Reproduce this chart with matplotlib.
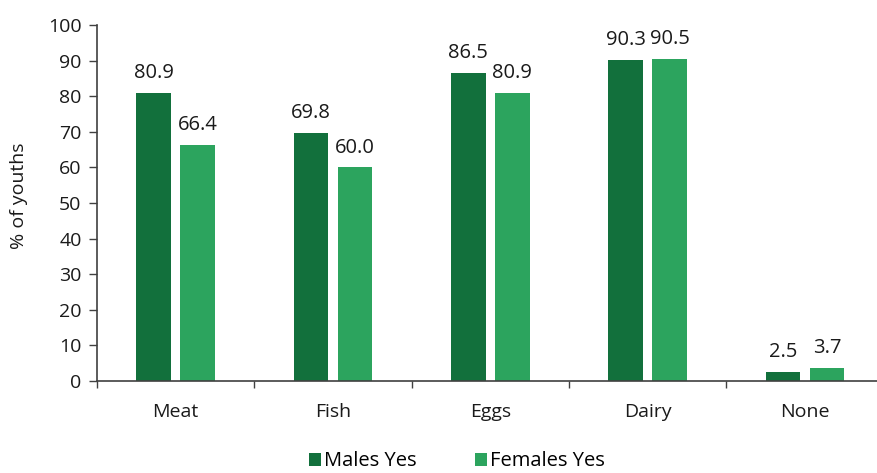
import matplotlib
matplotlib.use("Agg")
import matplotlib.pyplot as plt
import numpy as np
from matplotlib.ticker import FixedLocator, NullFormatter

categories = ["Meat", "Fish", "Eggs", "Dairy", "None"]
males_yes = [80.9, 69.8, 86.5, 90.3, 2.5]
females_yes = [66.4, 60.0, 80.9, 90.5, 3.7]
series_names = ["Males Yes", "Females Yes"]
y_ticks = [0, 10, 20, 30, 40, 50, 60, 70, 80, 90, 100]

plt.rcParams["font.family"] = ["Open Sans", "DejaVu Sans"]

dark_green = "#12703c"
light_green = "#2ca45e"
axis_color = "#404040"
text_color = "#1a1a1a"

fig = plt.figure(figsize=(8.78, 4.73), dpi=100)
ax = fig.add_axes([0.1103, 0.1945, 0.8963, 0.7525])

x = np.arange(len(categories))
width = 0.22
offset = 0.14
b1 = ax.bar(x - offset, males_yes, width, color=dark_green, label=series_names[0])
b2 = ax.bar(x + offset, females_yes, width, color=light_green, label=series_names[1])

for bars, vals in ((b1, males_yes), (b2, females_yes)):
    for rect, v in zip(bars, vals):
        ax.annotate(f"{v:.1f}", (rect.get_x() + rect.get_width() / 2, v),
                    xytext=(0, 7), textcoords="offset points",
                    ha="center", va="bottom", fontsize=14.5, color=text_color)

ax.set_xlim(-0.5, len(categories) - 0.5)
ax.set_ylim(0, 100)
ax.set_yticks(y_ticks)
ax.tick_params(axis="y", labelsize=14, length=6, width=1, color=axis_color,
               labelcolor=text_color, pad=5)

ax.set_xticks(x)
ax.set_xticklabels(categories)
ax.tick_params(axis="x", which="major", length=0, labelsize=14,
               labelcolor=text_color, pad=16)
ax.xaxis.set_minor_locator(FixedLocator(np.arange(-0.5, len(categories), 1.0)))
ax.xaxis.set_minor_formatter(NullFormatter())
ax.tick_params(axis="x", which="minor", length=5, width=1, color=axis_color)

for side in ("top", "right"):
    ax.spines[side].set_visible(False)
for side in ("left", "bottom"):
    ax.spines[side].set_color(axis_color)
    ax.spines[side].set_linewidth(1.2)

ax.set_ylabel("% of youths", fontsize=14, color=text_color)
ax.yaxis.set_label_coords(-0.088, 0.52)

fig.legend(handles=[b1, b2], labels=series_names, loc="lower center",
           bbox_to_anchor=(0.52, -0.035), ncol=2, frameon=False, fontsize=14.5,
           handlelength=0.6, handleheight=0.6, handletextpad=0.15,
           columnspacing=2.9)

fig.savefig("out.png", dpi=100)
